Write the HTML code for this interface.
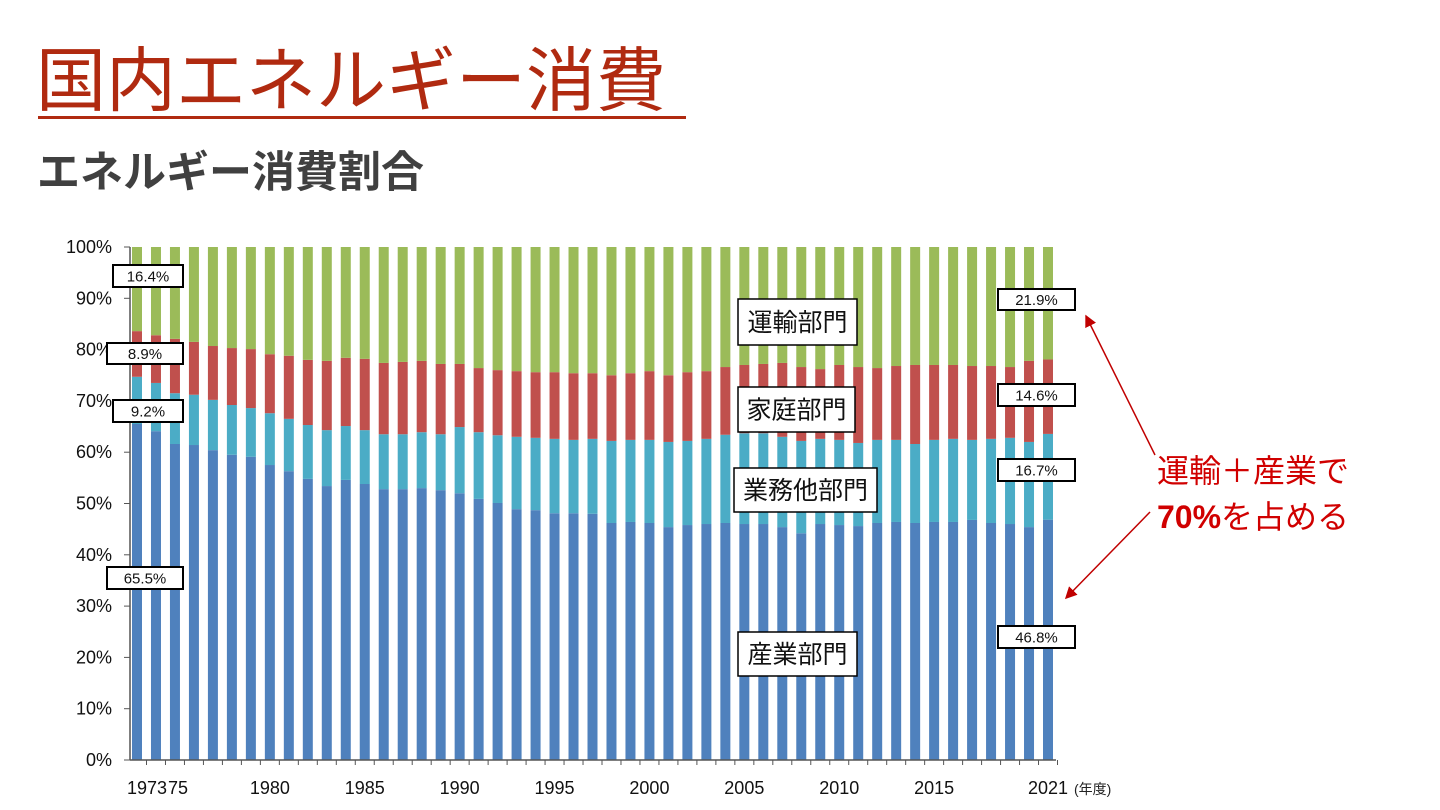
<!DOCTYPE html>
<html><head><meta charset="utf-8"><style>
body{margin:0;background:#fff;width:1440px;height:810px;overflow:hidden;font-family:"Liberation Sans","Noto Sans CJK JP",sans-serif;}
#title{position:absolute;left:36px;top:43px;font-size:70px;color:#b02a10;line-height:76px;letter-spacing:0px;white-space:nowrap}
#uline{position:absolute;left:38px;top:116px;width:648px;height:3px;background:#b02a10}
#sub{position:absolute;left:37px;top:148px;font-size:43px;font-weight:bold;color:#404040;line-height:50px;white-space:nowrap}
svg{position:absolute;left:0;top:0}
</style></head><body>
<div id="title">国内エネルギー消費</div>
<div id="uline"></div>
<div id="sub">エネルギー消費割合</div>
<svg id="chart" width="1440" height="810"></svg>
<script>
const years=[];for(let y=1973;y<=2021;y++)years.push(y);
const industry=[65.5,64.1,61.6,61.4,60.4,59.5,59.1,57.5,56.3,54.8,53.4,54.6,53.8,52.8,52.8,53.0,52.6,52.0,50.9,50.1,48.9,48.7,48.1,48.1,48.0,46.2,46.4,46.2,45.4,45.8,46.0,46.2,46.0,46.0,45.4,44.2,46.0,45.8,45.6,46.2,46.4,46.2,46.4,46.4,46.8,46.2,46.0,45.4,46.8];
const commercial=[9.2,9.4,9.9,9.8,9.8,9.7,9.5,10.1,10.2,10.5,10.9,10.5,10.5,10.7,10.7,10.9,10.9,12.9,13.0,13.2,14.1,14.1,14.5,14.3,14.6,16.0,16.0,16.2,16.6,16.4,16.6,17.2,17.7,17.7,17.6,18.0,16.6,16.6,16.2,16.2,16.0,15.4,16.0,16.2,15.6,16.4,16.8,16.6,16.7];
const residential=[8.9,9.3,10.6,10.3,10.5,11.1,11.5,11.5,12.3,12.7,13.5,13.3,13.9,13.9,14.1,13.9,13.7,12.3,12.5,12.7,12.8,12.8,13.0,13.0,12.8,12.8,13.0,13.4,13.0,13.4,13.2,13.2,13.3,13.5,14.4,14.4,13.6,14.6,14.8,14.0,14.4,15.4,14.6,14.4,14.4,14.2,13.8,15.8,14.5];
const transport=[16.4,17.2,17.9,18.5,19.3,19.7,19.9,20.9,21.2,22.0,22.2,21.6,21.8,22.6,22.4,22.2,22.8,22.8,23.6,24.0,24.2,24.4,24.4,24.6,24.6,25.0,24.6,24.2,25.0,24.4,24.2,23.4,23.0,22.8,22.6,23.4,23.8,23.0,23.4,23.6,23.2,23.0,23.0,23.0,23.2,23.2,23.4,22.2,21.9];
const yTicks=[0,10,20,30,40,50,60,70,80,90,100];
const xLabels=[[1973,"1973"],[1975,"75"],[1980,"1980"],[1985,"1985"],[1990,"1990"],[1995,"1995"],[2000,"2000"],[2005,"2005"],[2010,"2010"],[2015,"2015"],[2021,"2021"]];
const series=[["industry",industry,"#4f81bd"],["commercial",commercial,"#4bacc6"],["residential",residential,"#c0504d"],["transport",transport,"#9bbb59"]];
const NS="http://www.w3.org/2000/svg",svg=document.getElementById('chart');
const X0=130,X1=1056,Y0=760,Y1=247;
const xs=y=>137+(y-1973)*(1048-137)/48;
const ys=v=>Y0-v*(Y0-Y1)/100;
function mk(t,a,p){const e=document.createElementNS(NS,t);for(const k in a)e.setAttribute(k,a[k]);(p||svg).appendChild(e);return e;}
years.forEach((yr,i)=>{let tot=0;series.forEach(s=>tot+=s[1][i]);let acc=0;
 series.forEach(s=>{const v=s[1][i]/tot*100;const r=mk('rect',{x:xs(yr)-5,y:ys(acc+v),width:10,height:ys(acc)-ys(acc+v),fill:s[2]});
 
 
 acc+=v;});});
let ax=mk('line',{x1:X0,y1:Y1,x2:X0,y2:Y0,stroke:'#555','stroke-width':1.5});

ax=mk('line',{x1:X0,y1:Y0,x2:X1,y2:Y0,stroke:'#555','stroke-width':1.5});

yTicks.forEach(t=>{mk('line',{x1:X0-6,y1:ys(t),x2:X0,y2:ys(t),stroke:'#555'});
 const tx=mk('text',{x:X0-18,y:ys(t)+6,'text-anchor':'end','font-size':18,fill:'#111'});tx.textContent=t+'%';
 });
years.forEach(yr=>{const x=xs(yr)+9.5;mk('line',{x1:x,y1:Y0,x2:x,y2:Y0+5,stroke:'#555'});});
xLabels.forEach(l=>{const tx=mk('text',{x:xs(l[0])+(l[0]==1973?10:l[0]==1975?3:0),y:794,'text-anchor':'middle','font-size':18,fill:'#111'});tx.textContent=l[1];
 });
let u=mk('text',{x:1074,y:794,'font-size':14,fill:'#222'});u.textContent='(年度)';

function box(x,y,w,h,txt,fs,name,sw){const g=mk('g',{});
 mk('rect',{x:x,y:y,width:w,height:h,fill:'#fff',stroke:'#000','stroke-width':sw||2},g);
 const t=mk('text',{x:x+w/2,y:y+h/2+fs*0.36,'text-anchor':'middle','font-size':fs,fill:'#111'},g);t.textContent=txt;}
box(113,265,70,22,'16.4%',15,'label-transport-1973');
box(107,343,76,21,'8.9%',15,'label-residential-1973');
box(113,400,70,22,'9.2%',15,'label-commercial-1973');
box(107,567,76,22,'65.5%',15,'label-industry-1973');
box(998,289,77,21,'21.9%',15,'label-transport-2021');
box(998,384,77,22,'14.6%',15,'label-residential-2021');
box(998,459,77,22,'16.7%',15,'label-commercial-2021');
box(998,626,77,22,'46.8%',15,'label-industry-2021');
box(738,299,119,46,'運輸部門',25,'sector-label-transport',1.5);
box(738,387,117,45,'家庭部門',25,'sector-label-residential',1.5);
box(734,468,143,44,'業務他部門',25,'sector-label-commercial',1.5);
box(738,632,119,44,'産業部門',25,'sector-label-industry',1.5);
const defs=mk('defs',{});const m=mk('marker',{id:'ah',markerWidth:8,markerHeight:8,refX:7,refY:4,orient:'auto'},defs);
mk('path',{d:'M0,0 L8,4 L0,8 z',fill:'#c00000'},m);
let a=mk('line',{x1:1155,y1:455,x2:1086,y2:316,stroke:'#c00000','stroke-width':1.5,'marker-end':'url(#ah)'});

a=mk('line',{x1:1150,y1:512,x2:1066,y2:598,stroke:'#c00000','stroke-width':1.5,'marker-end':'url(#ah)'});

let t=mk('text',{x:1157,y:482,'font-size':32,fill:'#d00000'});t.textContent='運輸＋産業で';

t=mk('text',{x:1157,y:528,'font-size':32,fill:'#d00000'});

const b=mk('tspan',{'font-weight':'bold'},t);b.textContent='70%';const r=mk('tspan',{},t);r.textContent='を占める';
</script>
</body></html>
